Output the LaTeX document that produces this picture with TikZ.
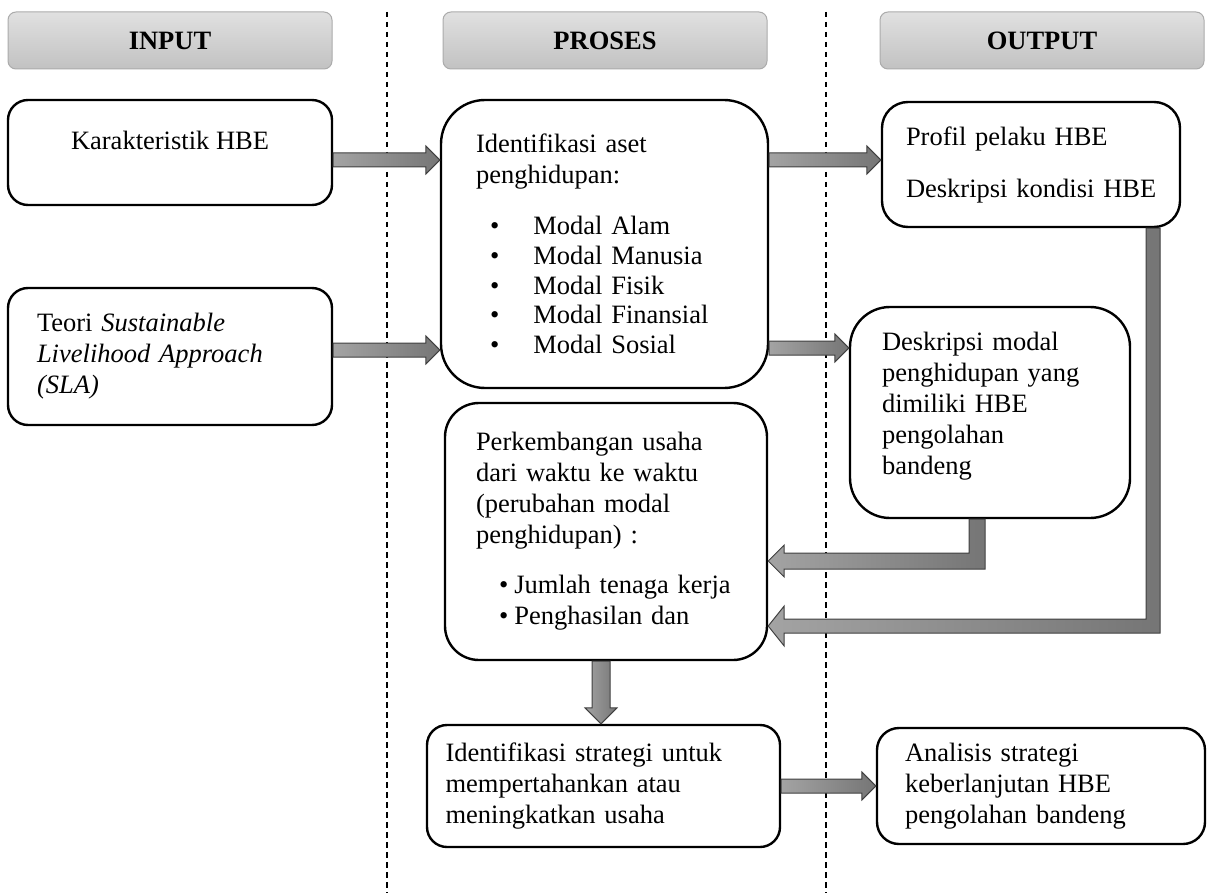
\documentclass[tikz,border=0pt]{standalone}
\usepackage{fontspec}
\setmainfont{Liberation Serif}
\usetikzlibrary{calc}

% block arrow pointing right, from node #1 to node #2 at height #3
\newcommand{\harrow}[3]{%
  \shadedraw[blockarrow] let \p1 = (#1.east |- 0,#3), \p2 = (#2.west |- 0,#3) in
    (\x1,\y1+3.5pt) -- (\x2-7pt,\y1+3.5pt) -- (\x2-7pt,\y1+7pt) -- (\x2,\y1)
    -- (\x2-7pt,\y1-7pt) -- (\x2-7pt,\y1-3.5pt) -- (\x1,\y1-3.5pt) -- cycle;}

\begin{document}
\begin{tikzpicture}[
            x = 0.5pt, y = -0.5pt, % pixel grid, y going down
            line join = miter
        ]

        \tikzstyle{box}=[
            draw = black,
            line width = 1.2pt,
            fill = white,
            inner sep = 0pt,
            align = left,
            font = \fontsize{13.25}{15.5}\selectfont
        ]
        \tikzstyle{head}=[
            draw = black!33,
            line width = 0.5pt,
            rounded corners = 4pt,
            top color = black!12,
            bottom color = black!24,
            minimum width = 162pt,
            minimum height = 28.5pt,
            font = \fontsize{13.25}{15.5}\selectfont\bfseries
        ]
        \tikzstyle{blockarrow}=[
            draw = black!75,
            line width = 0.5pt,
            left color = black!36,
            right color = black!54
        ]
        \tikzstyle{divider}=[
            line width = 1pt,
            dash pattern = on 2.75pt off 2.25pt
        ]

        \useasboundingbox (0,0) rectangle (1214,893);

        % column headers
	\node[head] (hinput) at (170,40.5) {INPUT};
	\node[head] (hproses) at (605,40.5) {PROSES};
	\node[head] (houtput) at (1042,40.5) {OUTPUT};

	\draw[divider] (387,12) -- (387,893);
	\draw[divider] (826,12) -- (826,893);

        % input
	\node[box, rounded corners = 10pt, minimum width = 162pt, minimum height = 52.5pt,
	      text depth = 12.5pt, align = center] (karakter) at (170,152.5) {Karakteristik HBE};
	\node[box, rounded corners = 10pt, minimum width = 162pt, minimum height = 68.5pt,
	      text width = 133pt] (teori) at (170,356.5)
	    {Teori \textit{Sustainable}\\ \textit{Livelihood Approach}\\ \textit{(SLA)}};

        % proses
	\node[box, rounded corners = 22pt, minimum width = 163.5pt, minimum height = 144pt,
	      text width = 128.5pt] (aset) at (604.5,244)
	    {Identifikasi aset\\ penghidupan:\\[10pt]
	     \hspace*{7pt}\textbullet\hspace{17pt}Modal Alam\\[-0.6pt]
	     \hspace*{7pt}\textbullet\hspace{17pt}Modal Manusia\\[-0.6pt]
	     \hspace*{7pt}\textbullet\hspace{17pt}Modal Fisik\\[-0.6pt]
	     \hspace*{7pt}\textbullet\hspace{17pt}Modal Finansial\\[-0.6pt]
	     \hspace*{7pt}\textbullet\hspace{17pt}Modal Sosial};
	\node[box, rounded corners = 17pt, minimum width = 161pt, minimum height = 128.5pt,
	      text width = 130pt] (kembang) at (606,531.5)
	    {Perkembangan usaha\\ dari waktu ke waktu\\ (perubahan modal\\ penghidupan) :\\[9.5pt]
	     \hspace*{11.5pt}\textbullet\hspace{3pt}Jumlah tenaga kerja\\
	     \hspace*{11.5pt}\textbullet\hspace{3pt}Penghasilan dan};
	\node[box, rounded corners = 10pt, minimum width = 176.5pt, minimum height = 61pt,
	      text width = 158pt] (strategi) at (603.5,786)
	    {Identifikasi strategi untuk\\ mempertahankan atau\\ meningkatkan usaha};

        % output
	\node[box, rounded corners = 13pt, minimum width = 149pt, minimum height = 62.5pt,
	      text width = 125pt] (profil) at (1031,164.5)
	    {\mbox{Profil pelaku HBE}\\[10.5pt] \mbox{Deskripsi kondisi HBE}};
	\node[box, rounded corners = 20pt, minimum width = 140pt, minimum height = 105.5pt,
	      text width = 108pt] (modal) at (990,412.5)
	    {Deskripsi modal\\ penghidupan yang\\ dimiliki HBE\\ pengolahan\\ bandeng\\[-6pt]\mbox{}};
	\node[box, rounded corners = 11pt, minimum width = 164pt, minimum height = 58pt,
	      text width = 136pt] (analisis) at (1041,786)
	    {Analisis strategi\\ keberlanjutan HBE\\ pengolahan bandeng};

        % arrows
	\harrow{karakter}{aset}{160}
	\harrow{teori}{aset}{350}
	\harrow{aset}{profil}{160}
	\harrow{aset}{modal}{348}
	\harrow{strategi}{analisis}{786}

	\shadedraw[blockarrow] let \p1 = ($(modal.south)+(-13,0)$), \p2 = (kembang.east |- 0,561) in
	    (\x1-4pt,\y1) -- (\x1+4pt,\y1) -- (\x1+4pt,\y2-4pt) -- (\x2+8pt,\y2-4pt)
	    -- (\x2+8pt,\y2-8pt) -- (\x2,\y2) -- (\x2+8pt,\y2+8pt) -- (\x2+8pt,\y2+4pt)
	    -- (\x1-4pt,\y2+4pt) -- cycle;
	\shadedraw[blockarrow] let \p1 = ($(profil.south)+(122,0)$), \p2 = (kembang.east |- 0,626) in
	    (\x1-3.5pt,\y1) -- (\x1+3.5pt,\y1) -- (\x1+3.5pt,\y2-3.5pt) -- (\x2+8pt,\y2-3.5pt)
	    -- (\x2+8pt,\y2-10pt) -- (\x2,\y2) -- (\x2+8pt,\y2+10pt) -- (\x2+8pt,\y2+3.5pt)
	    -- (\x1-3.5pt,\y2+3.5pt) -- cycle;
	\shadedraw[blockarrow] let \p1 = ($(kembang.south)+(-5,0)$), \p2 = (strategi.north) in
	    (\x1-4.5pt,\y1) -- (\x1+4.5pt,\y1) -- (\x1+4.5pt,\y2+8pt) -- (\x1+8pt,\y2+8pt)
	    -- (\x1,\y2) -- (\x1-8pt,\y2+8pt) -- (\x1-4.5pt,\y2+8pt) -- cycle;

    \end{tikzpicture}
\end{document}
